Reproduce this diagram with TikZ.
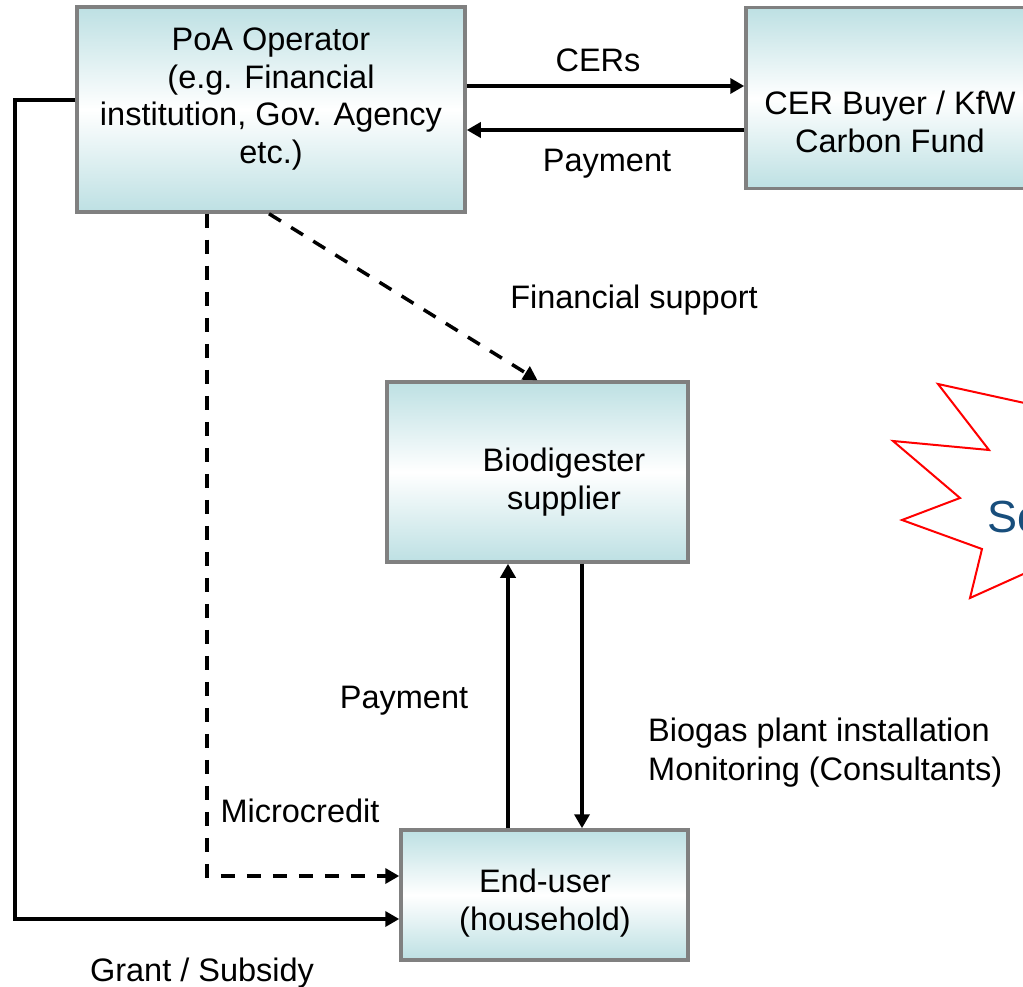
\documentclass[tikz,border=0pt]{standalone}
\usepackage{fontspec}
\setmainfont{Liberation Sans}
\usetikzlibrary{arrows.meta}
\definecolor{boxc}{RGB}{189,224,227}
\definecolor{bordc}{RGB}{128,128,128}
\definecolor{scblue}{RGB}{24,78,124}
\tikzset{
  box/.style={draw=bordc, line width=3.5pt, rectangle, top color=boxc, bottom color=boxc, middle color=white, inner sep=0pt},
  txt/.style={font=\fontsize{32.5}{37.5}\selectfont, align=center, inner sep=0pt},
  arr/.style={line width=3.5pt, -{Triangle[length=14pt,width=15pt]}},
  darr/.style={arr, dash pattern=on 14pt off 12pt},
}
\begin{document}
\begin{tikzpicture}[x=1pt,y=-1pt]
\useasboundingbox (0,0) rectangle (1023,987);
\begin{scope}
\clip (0,0) rectangle (1023,987);
% boxes
\node[box, minimum width=388pt, minimum height=205pt] (poa) at (271,109.5) {};
\node[box, minimum width=300pt, minimum height=181pt] (cer) at (896,98) {};
\node[box, minimum width=301pt, minimum height=180pt] (bio) at (537.5,472) {};
\node[box, minimum width=287pt, minimum height=130pt] (end) at (544.5,895) {};
% box texts
\node[txt] (poaT) at (271,99) {PoA Operator\\(e.g. Financial\\institution, Gov. Agency\\etc.)};
\node[txt] (cerT) at (890,122) {CER Buyer / KfW\\Carbon Fund};
\node[txt] (bioT) at (564,482) {Biodigester\\supplier};
\node[txt] (endT) at (545,903) {End-user\\(household)};
% starburst
\draw[red, line width=2pt, fill=white] (1070,413) -- (938,384) -- (989,450) -- (893,441) -- (960,498) -- (902,520) -- (982,549) -- (970,598) -- (1070,553);
\node[font=\fontsize{45}{50}\selectfont, text=scblue, anchor=base west, inner sep=0pt] (scT) at (987,532) {Sc};
% connectors
\draw[arr] (poa.east |- 0,86) -- (cer.west |- 0,86);
\draw[arr] (cer.west |- 0,130) -- (poa.east |- 0,130);
\draw[darr] (poa.south -| 269,0) -- (bio.north);
\coordinate (mc) at (207,876);
\draw[darr] (poa.south -| mc) -- (mc) -- (end.west |- mc);
\coordinate (g1) at (15,100);
\coordinate (g2) at (15,919);
\draw[arr] (poa.west |- g1) -- (g1) -- (g2) -- (end.west |- g2);
\draw[arr] (end.north -| 508,0) -- (bio.south -| 508,0);
\draw[arr] (bio.south -| 582,0) -- (end.north -| 582,0);
% labels
\node[txt] (lCER) at (598,60) {CERs};
\node[txt] (lPay1) at (607,164) {Payment};
\node[txt] (lFin) at (634,300) {Financial support};
\node[txt] (lMic) at (300,811) {Microcredit};
\node[txt] (lGr) at (202,973) {Grant / Subsidy};
\node[txt] (lPay2) at (404,701) {Payment};
\node[txt, anchor=west, align=left, font=\fontsize{32.5}{39}\selectfont] (lBio) at (648,753) {Biogas plant installation\\Monitoring (Consultants)};
\end{scope}
\end{tikzpicture}
\end{document}
